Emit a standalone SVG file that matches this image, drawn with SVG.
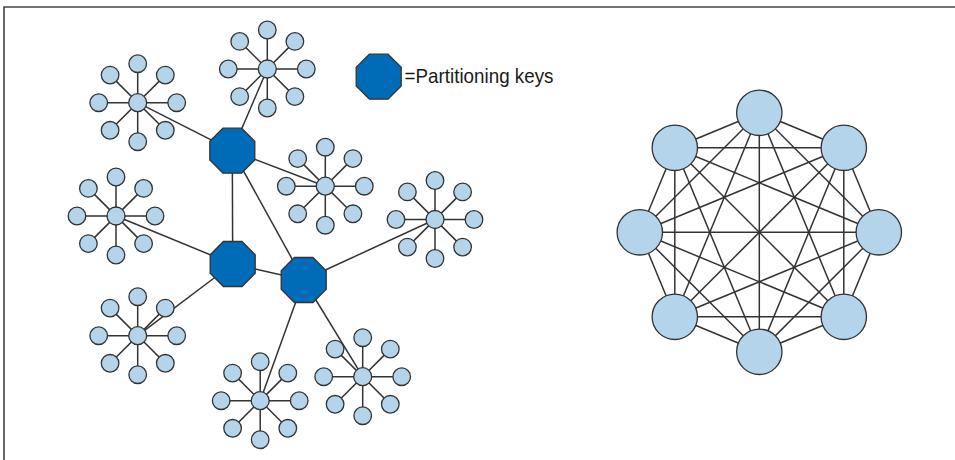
<svg xmlns="http://www.w3.org/2000/svg" xmlns:xlink="http://www.w3.org/1999/xlink" width="955" height="460" viewBox="0 0 955 460">
<style>
.ln{stroke:#333;stroke-width:1.5;fill:none}
.sat{fill:#b3d4ea;stroke:#333;stroke-width:1.3}
.key{fill:#006cb7;stroke:#333;stroke-width:1.3}
.lbl{font-family:"Liberation Sans",Arial,sans-serif;font-size:21px;fill:#1a1a1a}
</style>
<defs>
<g id="star">
<path class="ln" d="M0,-39V39M-39,0H39M-27.6,-27.6L27.6,27.6M27.6,-27.6L-27.6,27.6"/>
<circle class="sat" cx="0" cy="-39" r="8.8"/>
<circle class="sat" cx="27.6" cy="-27.6" r="8.8"/>
<circle class="sat" cx="39" cy="0" r="8.8"/>
<circle class="sat" cx="27.6" cy="27.6" r="8.8"/>
<circle class="sat" cx="0" cy="39" r="8.8"/>
<circle class="sat" cx="-27.6" cy="27.6" r="8.8"/>
<circle class="sat" cx="-39" cy="0" r="8.8"/>
<circle class="sat" cx="-27.6" cy="-27.6" r="8.8"/>
<circle class="sat" cx="0" cy="0" r="9"/>
</g>
<polygon id="oct" class="key" points="9.32,-22.5 22.5,-9.32 22.5,9.32 9.32,22.5 -9.32,22.5 -22.5,9.32 -22.5,-9.32 -9.32,-22.5"/>
</defs>
<g id="frame">
<path d="M4,460V7H955" fill="none" stroke="#444" stroke-width="1.6"/>
</g>
<g id="connectors" class="ln">
<line x1="137.7" y1="102.7" x2="232.3" y2="150.7"/>
<line x1="267.3" y1="69" x2="232.3" y2="150.7"/>
<line x1="232.3" y1="150.7" x2="325.3" y2="186.2"/>
<line x1="232.3" y1="150.7" x2="232.7" y2="264"/>
<line x1="232.3" y1="150.7" x2="303.7" y2="280"/>
<line x1="116" y1="216" x2="232.7" y2="264"/>
<line x1="232.7" y1="264" x2="303.7" y2="280"/>
<line x1="232.7" y1="264" x2="137.7" y2="335.7"/>
<line x1="303.7" y1="280" x2="435" y2="219.5"/>
<line x1="303.7" y1="280" x2="260.2" y2="400.7"/>
<line x1="303.7" y1="280" x2="362.7" y2="376.7"/>
</g>
<g id="cluster-a"><use xlink:href="#star" x="137.7" y="102.7"/></g>
<g id="cluster-b"><use xlink:href="#star" x="267.3" y="69"/></g>
<g id="cluster-c"><use xlink:href="#star" x="325.3" y="186.2"/></g>
<g id="cluster-d"><use xlink:href="#star" x="435" y="219.5"/></g>
<g id="cluster-e"><use xlink:href="#star" x="116" y="216"/></g>
<g id="cluster-f"><use xlink:href="#star" x="137.7" y="335.7"/></g>
<g id="cluster-g"><use xlink:href="#star" x="260.2" y="400.7"/></g>
<g id="cluster-h"><use xlink:href="#star" x="362.7" y="376.7"/></g>
<g id="key-1"><use xlink:href="#oct" x="232.3" y="150.7"/></g>
<g id="key-2"><use xlink:href="#oct" x="232.7" y="264"/></g>
<g id="key-3"><use xlink:href="#oct" x="303.7" y="280"/></g>
<g id="legend">
<use xlink:href="#oct" x="378.7" y="76.7"/>
<text class="lbl" x="404.5" y="82.5" textLength="149" lengthAdjust="spacingAndGlyphs">=Partitioning keys</text>
</g>
<g id="mesh-connectors" class="ln">
<line x1="759.3" y1="112.8" x2="843.8" y2="147.8"/>
<line x1="759.3" y1="112.8" x2="878.8" y2="232.3"/>
<line x1="759.3" y1="112.8" x2="843.8" y2="316.8"/>
<line x1="759.3" y1="112.8" x2="759.3" y2="351.8"/>
<line x1="759.3" y1="112.8" x2="674.8" y2="316.8"/>
<line x1="759.3" y1="112.8" x2="639.8" y2="232.3"/>
<line x1="759.3" y1="112.8" x2="674.8" y2="147.8"/>
<line x1="843.8" y1="147.8" x2="878.8" y2="232.3"/>
<line x1="843.8" y1="147.8" x2="843.8" y2="316.8"/>
<line x1="843.8" y1="147.8" x2="759.3" y2="351.8"/>
<line x1="843.8" y1="147.8" x2="674.8" y2="316.8"/>
<line x1="843.8" y1="147.8" x2="639.8" y2="232.3"/>
<line x1="843.8" y1="147.8" x2="674.8" y2="147.8"/>
<line x1="878.8" y1="232.3" x2="843.8" y2="316.8"/>
<line x1="878.8" y1="232.3" x2="759.3" y2="351.8"/>
<line x1="878.8" y1="232.3" x2="674.8" y2="316.8"/>
<line x1="878.8" y1="232.3" x2="639.8" y2="232.3"/>
<line x1="878.8" y1="232.3" x2="674.8" y2="147.8"/>
<line x1="843.8" y1="316.8" x2="759.3" y2="351.8"/>
<line x1="843.8" y1="316.8" x2="674.8" y2="316.8"/>
<line x1="843.8" y1="316.8" x2="639.8" y2="232.3"/>
<line x1="843.8" y1="316.8" x2="674.8" y2="147.8"/>
<line x1="759.3" y1="351.8" x2="674.8" y2="316.8"/>
<line x1="759.3" y1="351.8" x2="639.8" y2="232.3"/>
<line x1="759.3" y1="351.8" x2="674.8" y2="147.8"/>
<line x1="674.8" y1="316.8" x2="639.8" y2="232.3"/>
<line x1="674.8" y1="316.8" x2="674.8" y2="147.8"/>
<line x1="639.8" y1="232.3" x2="674.8" y2="147.8"/>
</g>
<g id="m0"><circle class="sat" cx="759.3" cy="112.8" r="22.7"/></g>
<g id="m1"><circle class="sat" cx="843.8" cy="147.8" r="22.7"/></g>
<g id="m2"><circle class="sat" cx="878.8" cy="232.3" r="22.7"/></g>
<g id="m3"><circle class="sat" cx="843.8" cy="316.8" r="22.7"/></g>
<g id="m4"><circle class="sat" cx="759.3" cy="351.8" r="22.7"/></g>
<g id="m5"><circle class="sat" cx="674.8" cy="316.8" r="22.7"/></g>
<g id="m6"><circle class="sat" cx="639.8" cy="232.3" r="22.7"/></g>
<g id="m7"><circle class="sat" cx="674.8" cy="147.8" r="22.7"/></g>
</svg>
